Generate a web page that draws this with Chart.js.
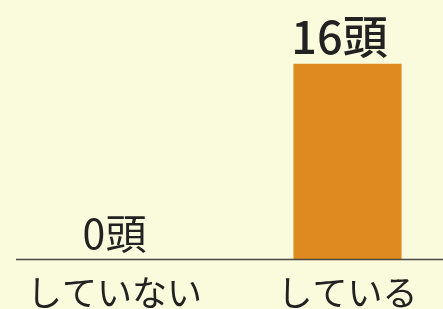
<!DOCTYPE html>
<html>
<head>
<meta charset="utf-8">
<script src="https://cdn.jsdelivr.net/npm/chart.js@4"></script>
<style>
  html, body { margin: 0; padding: 0; background: #fafadc; overflow: hidden; }
  #wrap { position: relative; left: -2px; width: 466px; height: 309px; }
</style>
</head>
<body>
<div id="wrap"><canvas id="chart"></canvas></div>
<script>
const categories = ['していない', 'している'];
const heads = [0, 16];
const unit = '頭';

const valueLabels = {
    id: 'valueLabels',
    afterDatasetsDraw(chart) {
        const ctx = chart.ctx;
        const meta = chart.getDatasetMeta(0);
        ctx.save();
        ctx.fillStyle = '#222';
        ctx.textAlign = 'center';
        ctx.textBaseline = 'alphabetic';
        meta.data.forEach((bar, i) => {
            const v = heads[i];
            ctx.font = v > 0 ? '500 45px "Noto Sans CJK JP"' : '400 41px "Noto Sans CJK JP"';
            const dx = v > 0 ? -8 : 0;
            ctx.fillText(v + unit, bar.x + dx, bar.y - 10);
        });
        ctx.restore();
    }
};

const baseLine = {
    id: 'baseLine',
    afterDatasetsDraw(chart) {
        const ctx = chart.ctx;
        const y = Math.round(chart.scales.y.getPixelForValue(0)) + 0.5;
        ctx.save();
        ctx.strokeStyle = '#4a4a44';
        ctx.lineWidth = 1.5;
        ctx.beginPath();
        ctx.moveTo(18, y);
        ctx.lineTo(chart.width, y);
        ctx.stroke();
        ctx.restore();
    }
};

new Chart(document.getElementById('chart'), {
    type: 'bar',
    data: {
        labels: categories,
        datasets: [{
            data: heads,
            backgroundColor: '#de8a1e',
            barPercentage: 0.464,
            categoryPercentage: 1
        }]
    },
    options: {
        responsive: true,
        maintainAspectRatio: false,
        animation: false,
        layout: { padding: { top: 15, left: 0, right: 0, bottom: 0 } },
        plugins: { legend: { display: false }, tooltip: { enabled: false } },
        scales: {
            x: {
                grid: { display: false },
                border: { display: false },
                ticks: {
                    color: '#222',
                    padding: 5,
                    font: { family: '"Noto Sans CJK JP"', size: 35, weight: 400 }
                },
                afterFit: (scale) => { scale.height = 50; }
            },
            y: {
                display: false,
                min: 0,
                max: 20
            }
        }
    },
    plugins: [valueLabels, baseLine]
});
</script>
</body>
</html>
